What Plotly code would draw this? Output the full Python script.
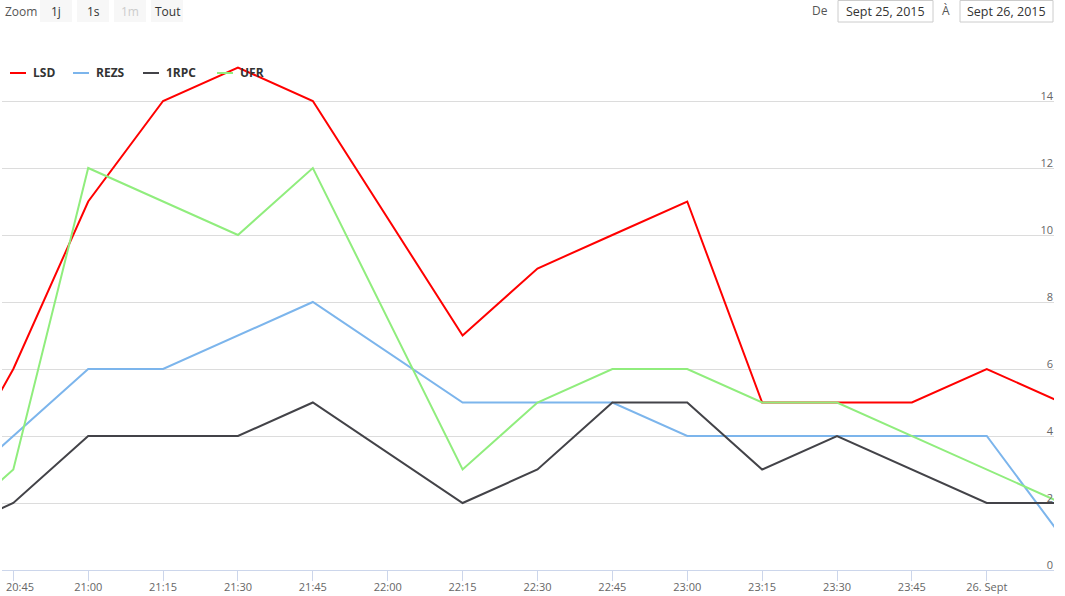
import plotly.graph_objects as go

# ---- data ----
times = [
    "2015-09-25 20:30", "2015-09-25 20:45", "2015-09-25 21:00", "2015-09-25 21:15",
    "2015-09-25 21:30", "2015-09-25 21:45", "2015-09-25 22:15", "2015-09-25 22:30",
    "2015-09-25 22:45", "2015-09-25 23:00", "2015-09-25 23:15", "2015-09-25 23:30",
    "2015-09-25 23:45", "2015-09-26 00:00", "2015-09-26 00:15",
]
lsd = [2, 6, 11, 14, 15, 14, 7, 9, 10, 11, 5, 5, 5, 6, 5]
rezs = [2, 4, 6, 6, 7, 8, 5, 5, 5, 4, 4, 4, 4, 4, 1]
rpc = [1, 2, 4, 4, 4, 5, 2, 3, 5, 5, 3, 4, 3, 2, 2]
ufr = [1, 3, 12, 11, 10, 12, 3, 5, 6, 6, 5, 5, 4, 3, 2]

series_names = ["LSD", "REZS", "1RPC", "UFR"]
series_values = [lsd, rezs, rpc, ufr]
series_colors = ["#ff0000", "#7cb5ec", "#434348", "#90ed7d"]

x_tickvals = [
    "2015-09-25 20:45", "2015-09-25 21:00", "2015-09-25 21:15", "2015-09-25 21:30",
    "2015-09-25 21:45", "2015-09-25 22:00", "2015-09-25 22:15", "2015-09-25 22:30",
    "2015-09-25 22:45", "2015-09-25 23:00", "2015-09-25 23:15", "2015-09-25 23:30",
    "2015-09-25 23:45", "2015-09-26 00:00",
]
x_ticktext = ["20:45", "21:00", "21:15", "21:30", "21:45", "22:00", "22:15",
              "22:30", "22:45", "23:00", "23:15", "23:30", "23:45", "26. Sept"]
y_tickvals = [0, 2, 4, 6, 8, 10, 12, 14, 16]
y_ticktext = ["0", "2", "4", "6", "8", "10", "12", "14", ""]

x_range = ["2015-09-25 20:42:44", "2015-09-26 00:13:28"]

zoom_buttons = ["1j", "1s", "1m", "Tout"]
date_from = "Sept 25, 2015"
date_to = "Sept 26, 2015"

FONT = "Open Sans"

# ---- layout geometry (pixels) ----
W, H = 1065, 596
ML, MR, MT, MB = 2, 11, 34, 26
PW = W - ML - MR
PH = H - MT - MB


def px_x(px):
    return (px - ML) / PW


def px_y(py):
    return (H - MB - py) / PH


fig = go.Figure()
for name, vals, col in zip(series_names, series_values, series_colors):
    fig.add_trace(go.Scatter(x=times, y=vals, name=name, mode="lines",
                             line=dict(color=col, width=2), showlegend=False))

shapes = []
annotations = []

# legend (manual, Highcharts style)
leg_sym_x = [10, 73, 143, 217]
for name, col, sx in zip(series_names, series_colors, leg_sym_x):
    shapes.append(dict(type="line", xref="paper", yref="paper",
                       x0=px_x(sx), x1=px_x(sx + 16), y0=px_y(73), y1=px_y(73),
                       line=dict(color=col, width=2)))
    annotations.append(dict(text=f"<b>{name}</b>", xref="paper", yref="paper",
                            x=px_x(sx + 21), y=px_y(73), xanchor="left", yanchor="middle",
                            showarrow=False, font=dict(family=FONT, size=12, color="#333333")))

# first x tick label is kept inside the chart (Highcharts "justify" behaviour)
tick_labels_shown = [""] + x_ticktext[1:]
annotations.append(dict(text=x_ticktext[0], xref="paper", yref="paper", x=px_x(4), y=px_y(586),
                        xanchor="left", yanchor="middle", showarrow=False,
                        font=dict(family=FONT, size=11, color="#666666")))

# range selector look-alike
annotations.append(dict(text="Zoom", xref="paper", yref="paper", x=px_x(3), y=px_y(11.5),
                        xanchor="left", yanchor="middle", showarrow=False,
                        font=dict(family=FONT, size=12, color="#555555")))
btn_x = [40, 77, 114, 151]
for lbl, bx in zip(zoom_buttons, btn_x):
    shapes.append(dict(type="rect", xref="paper", yref="paper",
                       x0=px_x(bx), x1=px_x(bx + 32), y0=px_y(22), y1=px_y(0),
                       fillcolor="#f7f7f7", line=dict(width=0), layer="below"))
    annotations.append(dict(text=lbl, xref="paper", yref="paper", x=px_x(bx + 16), y=px_y(11.5),
                            xanchor="center", yanchor="middle", showarrow=False,
                            font=dict(family=FONT, size=12,
                                      color="#cccccc" if lbl == "1m" else "#333333")))

# date inputs
annotations.append(dict(text="De", xref="paper", yref="paper", x=px_x(830), y=px_y(11),
                        xanchor="right", yanchor="middle", showarrow=False,
                        font=dict(family=FONT, size=12, color="#555555")))
annotations.append(dict(text="À", xref="paper", yref="paper", x=px_x(952), y=px_y(11),
                        xanchor="right", yanchor="middle", showarrow=False,
                        font=dict(family=FONT, size=12, color="#555555")))
for (x0, x1, txt) in [(838, 933, date_from), (960, 1053, date_to)]:
    shapes.append(dict(type="rect", xref="paper", yref="paper",
                       x0=px_x(x0), x1=px_x(x1), y0=px_y(22), y1=px_y(0.5),
                       fillcolor="white", line=dict(color="#cccccc", width=1)))
    annotations.append(dict(text=txt, xref="paper", yref="paper", x=px_x((x0 + x1) / 2), y=px_y(11.5),
                            xanchor="center", yanchor="middle", showarrow=False,
                            font=dict(family=FONT, size=12.5, color="#333333")))

fig.update_layout(
    width=W, height=H,
    margin=dict(l=ML, r=MR, t=MT, b=MB, pad=0, autoexpand=False),
    paper_bgcolor="white", plot_bgcolor="white",
    font=dict(family=FONT, size=11, color="#666666"),
    shapes=shapes, annotations=annotations,
    showlegend=False,
    xaxis=dict(type="date", range=x_range, tickmode="array", tickvals=x_tickvals,
               ticktext=tick_labels_shown, showgrid=False, showline=True, linecolor="#ccd6eb",
               linewidth=1, ticks="outside", ticklen=10, tickcolor="#ccd6eb", tickwidth=1,
               tickfont=dict(family=FONT, size=11, color="#666666"), zeroline=False,
               ticklabelstandoff=-3, ticklabeloverflow="allow", automargin=False),
    yaxis=dict(range=[0, 16], side="right", tickmode="array", tickvals=y_tickvals,
               ticktext=y_ticktext, showgrid=True, gridcolor="#dcdcdc", gridwidth=1,
               zeroline=False, showline=False, ticks="", ticklabelposition="inside top",
               ticklabelshift=3, ticklabelstandoff=-2, ticklabeloverflow="allow",
               automargin=False,
               tickfont=dict(family=FONT, size=11, color="#666666")),
)

fig.write_html("out.html")
